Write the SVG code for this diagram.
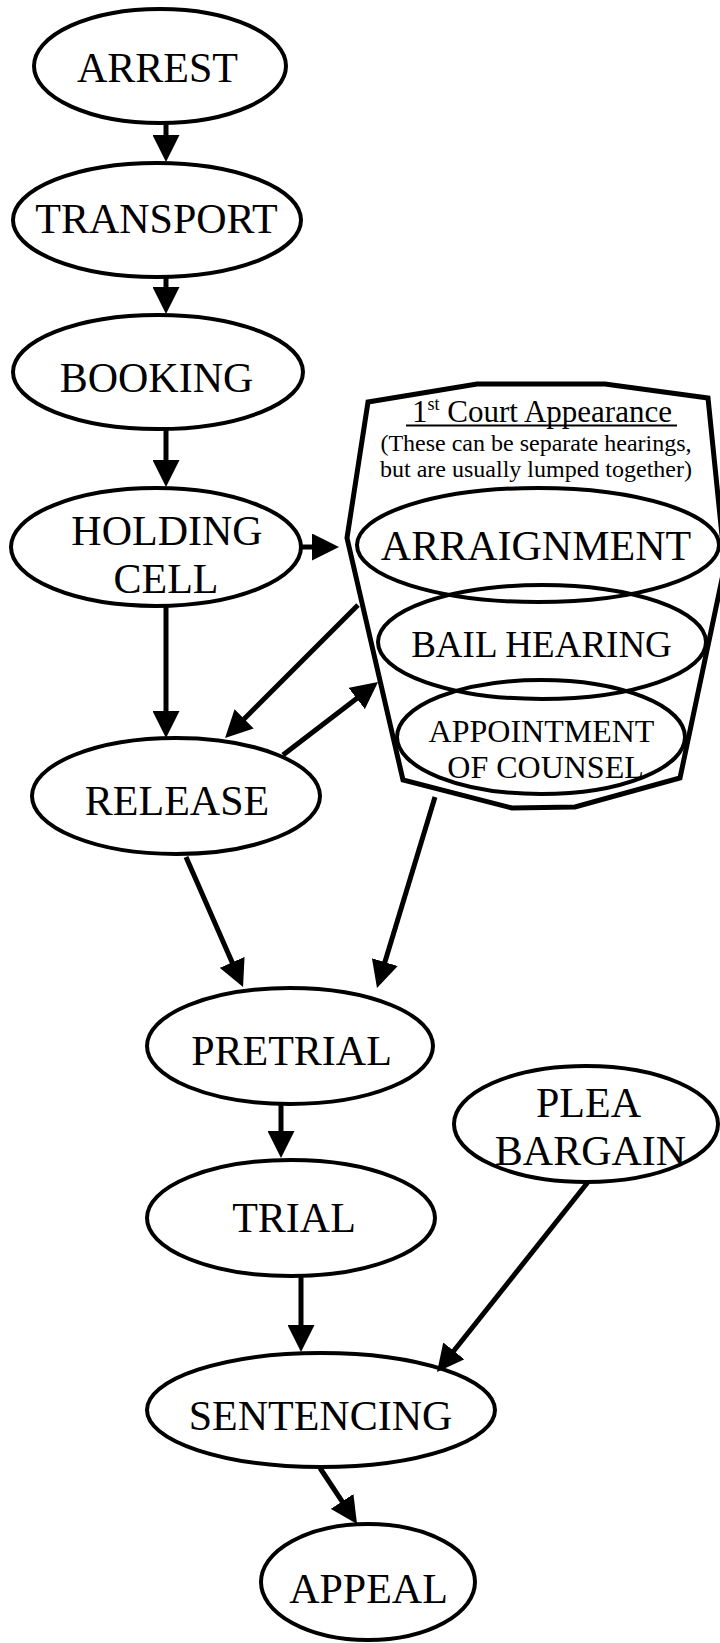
<svg xmlns="http://www.w3.org/2000/svg" width="720" height="1643" viewBox="0 0 720 1643">
<style>
.n{fill:none;stroke:#000;stroke-width:4}
.t{font-family:"Liberation Serif","Times New Roman",serif;font-size:42px;fill:#000;text-anchor:middle}
.e{stroke:#000;stroke-width:5;fill:none;marker-end:url(#ah)}
.box{fill:none;stroke:#000;stroke-width:5;stroke-linejoin:miter}
</style>
<defs>
<marker id="ah" markerUnits="userSpaceOnUse" markerWidth="27" markerHeight="27" refX="5" refY="13.5" orient="auto" viewBox="0 0 27 27">
<path d="M0,0 L27,13.5 L0,27 z" fill="#000"/>
</marker>
</defs>
<rect width="720" height="1643" fill="#fff"/>
<g id="court">
<polygon class="box" points="368,402 477,384 605,384 708,398 725,565 680,778 575,807 512,808 403,780 347,538"/>
<text class="t" x="542" y="422" style="font-size:31px">1<tspan style="font-size:18px" dy="-12">st</tspan><tspan dy="12"> Court Appearance</tspan></text>
<line x1="406" y1="425.5" x2="677" y2="425.5" stroke="#000" stroke-width="2"/>
<text class="t" x="536" y="451" style="font-size:24px">(These can be separate hearings,</text>
<text class="t" x="536" y="477" style="font-size:24px">but are usually lumped together)</text>
</g>
<g id="arraignment"><ellipse class="n" cx="538" cy="545" rx="181" ry="57"/><text class="t" x="536" y="560">ARRAIGNMENT</text></g>
<g id="bail"><ellipse class="n" cx="542" cy="642" rx="164" ry="57"/><text class="t" x="541.5" y="657" style="font-size:37px">BAIL HEARING</text></g>
<g id="counsel"><ellipse class="n" cx="541" cy="737" rx="144" ry="57"/><text class="t" x="541.5" y="742" style="font-size:32px">APPOINTMENT</text><text class="t" x="545.5" y="778" style="font-size:32px">OF COUNSEL</text></g>
<g id="arrest"><ellipse class="n" cx="160" cy="66" rx="126" ry="57"/><text class="t" x="157.5" y="82">ARREST</text></g>
<g id="transport"><ellipse class="n" cx="157" cy="220" rx="144" ry="57"/><text class="t" x="156.5" y="233">TRANSPORT</text></g>
<g id="booking"><ellipse class="n" cx="158" cy="372" rx="145" ry="57"/><text class="t" x="156.5" y="392">BOOKING</text></g>
<g id="holding"><ellipse class="n" cx="156" cy="547" rx="145" ry="59"/><text class="t" x="167" y="545">HOLDING</text><text class="t" x="166" y="593">CELL</text></g>
<g id="release"><ellipse class="n" cx="176" cy="796" rx="144" ry="58"/><text class="t" x="177" y="815">RELEASE</text></g>
<g id="pretrial"><ellipse class="n" cx="290" cy="1046" rx="143" ry="58"/><text class="t" x="291.5" y="1065">PRETRIAL</text></g>
<g id="trial"><ellipse class="n" cx="291" cy="1218" rx="144" ry="58"/><text class="t" x="294" y="1232">TRIAL</text></g>
<g id="plea"><ellipse class="n" cx="586" cy="1124" rx="132" ry="58"/><text class="t" x="588.5" y="1117">PLEA</text><text class="t" x="590.5" y="1165">BARGAIN</text></g>
<g id="sentencing"><ellipse class="n" cx="321" cy="1410" rx="174" ry="57"/><text class="t" x="320.5" y="1430">SENTENCING</text></g>
<g id="appeal"><ellipse class="n" cx="368" cy="1582" rx="107" ry="58"/><text class="t" x="368.5" y="1603">APPEAL</text></g>
<g id="connectors">
<line class="e" x1="166" y1="122" x2="166" y2="140"/>
<line class="e" x1="166" y1="276" x2="166" y2="292"/>
<line class="e" x1="166" y1="429" x2="166" y2="465"/>
<line class="e" x1="300" y1="547" x2="317" y2="547"/>
<line class="e" x1="166" y1="606" x2="166" y2="716"/>
<line class="e" x1="358" y1="605" x2="240.6" y2="722.4"/>
<line class="e" x1="283" y1="755" x2="360.6" y2="695.4"/>
<line class="e" x1="435" y1="797" x2="383.4" y2="966.9"/>
<line class="e" x1="186" y1="857" x2="234.2" y2="966.9"/>
<line class="e" x1="281" y1="1104" x2="281" y2="1136"/>
<line class="e" x1="301" y1="1274" x2="301" y2="1330"/>
<line class="e" x1="588" y1="1182" x2="450.7" y2="1354.8"/>
<line class="e" x1="320" y1="1468" x2="344.9" y2="1505.6"/>
</g>
</svg>
